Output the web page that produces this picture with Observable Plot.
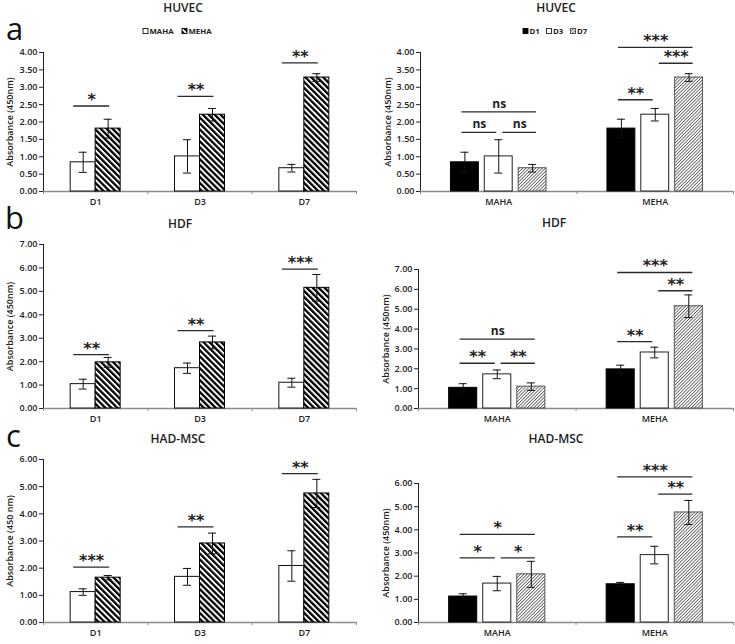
<!DOCTYPE html>
<html>
<head>
<meta charset="utf-8">
<script src="https://cdn.jsdelivr.net/npm/d3@7"></script>
<script src="https://cdn.jsdelivr.net/npm/@observablehq/plot@0.6"></script>
<style>
  body { margin: 0; background: #fff; }
  #root { position: relative; width: 735px; height: 644px; background: #fff; overflow: hidden; }
  #root > .pl { position: absolute; }
  #overlay { position: absolute; left: 0; top: 0; z-index: 5; pointer-events: none; }
</style>
</head>
<body>
<div id="root">
  <svg width="0" height="0" style="position:absolute">
    <defs>
      <pattern id="stripes" patternUnits="userSpaceOnUse" width="4.2" height="4.2" patternTransform="rotate(-45)">
        <rect x="0" y="0" width="4.2" height="4.2" fill="#fff"></rect>
        <rect x="0" y="0" width="2.3" height="4.2" fill="#000"></rect>
      </pattern>
      <pattern id="fine" patternUnits="userSpaceOnUse" width="2.3" height="2.3" patternTransform="rotate(45)">
        <rect x="0" y="0" width="2.3" height="2.3" fill="#fff"></rect>
        <rect x="0" y="0" width="0.8" height="2.3" fill="#555"></rect>
      </pattern>
    </defs>
  </svg>
  <svg id="overlay" width="735" height="644"></svg>
</div>
<script>
// ---------------- data ----------------
const days = ["D1", "D3", "D7"];
const materials = ["MAHA", "MEHA"];
const cellLines = ["HUVEC", "HDF", "HAD-MSC"];
const panelLetters = ["a", "b", "c"];
const yMaxes = [4, 7, 6];
const yTicksHUVEC = [0, 0.5, 1, 1.5, 2, 2.5, 3, 3.5, 4];
const yTicksHDF = [0, 1, 2, 3, 4, 5, 6, 7];
const yTicksMSC = [0, 1, 2, 3, 4, 5, 6];
const yLabelsLeft = ["Absorbance (450nm)", "Absorbance (450nm)", "Absorbance (450 nm)"];
const yLabelsRight = ["Absorbance (450nm)", "Absorbance (450nm)", "Absorbance (450nm)"];

// means and error (per day D1, D3, D7)
const huvecMAHA = [0.84, 1.01, 0.67];
const huvecMAHAerr = [0.29, 0.48, 0.11];
const huvecMEHA = [1.81, 2.21, 3.28];
const huvecMEHAerr = [0.27, 0.18, 0.11];
const hdfMAHA = [1.04, 1.72, 1.10];
const hdfMAHAerr = [0.21, 0.22, 0.19];
const hdfMEHA = [1.97, 2.82, 5.15];
const hdfMEHAerr = [0.21, 0.27, 0.57];
const mscMAHA = [1.12, 1.68, 2.08];
const mscMAHAerr = [0.12, 0.31, 0.56];
const mscMEHA = [1.65, 2.91, 4.75];
const mscMEHAerr = [0.08, 0.38, 0.52];

// significance MAHA vs MEHA at each day (left panels)
const sigDayHUVEC = ["*", "**", "**"];
const sigDayHUVECy = [2.46, 2.74, 3.70];
const sigDayHDF = ["**", "**", "***"];
const sigDayHDFy = [2.30, 3.32, 5.95];
const sigDayMSC = ["***", "**", "**"];
const sigDayMSCy = [2.04, 3.52, 5.48];

// significance between days within each material (right panels)
const dayPairs = [["D1", "D3"], ["D3", "D7"], ["D1", "D7"]];
const sigHUVEC_MAHA = ["ns", "ns", "ns"];
const sigHUVEC_MAHAy = [1.70, 1.70, 2.29];
const sigHUVEC_MEHA = ["**", "***", "***"];
const sigHUVEC_MEHAy = [2.64, 3.69, 4.15];
const sigHDF_MAHA = ["**", "**", "ns"];
const sigHDF_MAHAy = [2.28, 2.28, 3.49];
const sigHDF_MEHA = ["**", "**", "***"];
const sigHDF_MEHAy = [3.37, 5.93, 6.85];
const sigMSC_MAHA = ["*", "*", "*"];
const sigMSC_MAHAy = [2.79, 2.79, 3.80];
const sigMSC_MEHA = ["**", "**", "***"];
const sigMSC_MEHAy = [3.70, 5.54, 6.29];

// ---------------- assemble ----------------
const means = [[huvecMAHA, huvecMEHA], [hdfMAHA, hdfMEHA], [mscMAHA, mscMEHA]];
const errs = [[huvecMAHAerr, huvecMEHAerr], [hdfMAHAerr, hdfMEHAerr], [mscMAHAerr, mscMEHAerr]];
const yTicks = [yTicksHUVEC, yTicksHDF, yTicksMSC];
const sigDay = [[sigDayHUVEC, sigDayHUVECy], [sigDayHDF, sigDayHDFy], [sigDayMSC, sigDayMSCy]];
const sigMat = [
  [[sigHUVEC_MAHA, sigHUVEC_MAHAy], [sigHUVEC_MEHA, sigHUVEC_MEHAy]],
  [[sigHDF_MAHA, sigHDF_MAHAy], [sigHDF_MEHA, sigHDF_MEHAy]],
  [[sigMSC_MAHA, sigMSC_MAHAy], [sigMSC_MEHA, sigMSC_MEHAy]]
];

function panel(o) {
  const innerW = o.width - o.marginLeft - o.marginRight;
  const fw = innerW / o.groups.length;
  const n = o.series.length;
  const step = fw / (n - o.padIn + 2 * o.padOut);
  const bw = step * (1 - o.padIn);
  const edge = o.padOut * step + bw / 2;
  const capInset = (bw - o.cap) / 2;
  const innerH = o.height - o.marginTop - o.marginBottom;
  const tickLen = -o.yMax * 3 / innerH;
  const idx = (s) => o.series.indexOf(s);
  const marks = [
    Plot.ruleY([0], {stroke: "#8a8a8a", strokeWidth: 1.3}),
    Plot.ruleX(o.groups, {fx: (d) => d, x: () => o.series[0], y1: 0, y2: tickLen, dx: -edge, stroke: "#8a8a8a"}),
    Plot.ruleX([o.groups[o.groups.length - 1]], {fx: (d) => d, x: () => o.series[n - 1], y1: 0, y2: tickLen, dx: edge, stroke: "#8a8a8a"}),
    ...o.series.map((s, k) => Plot.barY(o.rows.filter((r) => r.series === s), {
      fx: "group", x: "series", y: "value", fill: o.fills[k], stroke: o.strokes[k], strokeWidth: 1
    })),
    Plot.ruleX(o.rows, {fx: "group", x: "series", y1: (r) => r.value - r.err, y2: (r) => r.value + r.err, stroke: "#111", strokeWidth: 1}),
    Plot.tickY(o.rows, {fx: "group", x: "series", y: (r) => r.value + r.err, insetLeft: capInset, insetRight: capInset, stroke: "#111"}),
    Plot.tickY(o.rows, {fx: "group", x: "series", y: (r) => r.value - r.err, insetLeft: capInset, insetRight: capInset, stroke: "#111"})
  ];
  o.sigs.forEach((s) => {
    const iL = o.sigInL(s, idx), iR = o.sigInR(s, idx);
    marks.push(Plot.ruleY([s], {fx: "group", x1: "from", x2: "to", y: "y", insetLeft: iL, insetRight: iR, stroke: "#2a2a2a", strokeWidth: 1.3}));
    marks.push(Plot.text([s], {
      fx: "group", x: "from", y: "y", text: "label",
      dx: (idx(s.to) - idx(s.from)) * step / 2 + (iL - iR) / 2,
      dy: s.label === "ns" ? -4 : -1,
      lineAnchor: "bottom",
      fontFamily: s.label === "ns" ? "Open Sans" : "DejaVu Sans",
      fontWeight: "bold",
      fontSize: s.label === "ns" ? 12 : 16,
      fill: "#222"
    }));
  });
  const svg = Plot.plot({
    width: o.width, height: o.height,
    marginLeft: o.marginLeft, marginRight: o.marginRight,
    marginTop: o.marginTop, marginBottom: o.marginBottom,
    style: {fontFamily: "Open Sans", fontSize: "9px", fontWeight: "600", color: "#222", background: "transparent", overflow: "visible"},
    fx: {domain: o.groups, padding: 0, round: false, axis: "bottom", tickSize: 0, tickPadding: 7, label: null},
    x: {domain: o.series, paddingInner: o.padIn, paddingOuter: o.padOut, round: false, axis: null},
    y: {domain: [0, o.yMax], ticks: o.ticks, tickFormat: (d) => d.toFixed(2), tickSize: 4, tickPadding: 2,
        line: true, label: o.yLabel, labelAnchor: "center", labelOffset: o.labelOffset, labelArrow: false},
    marks
  });
  svg.classList.add("pl");
  svg.style.left = o.left + "px";
  svg.style.top = o.top + "px";
  document.getElementById("root").insertBefore(svg, document.getElementById("overlay"));
}

const rowTops = [0, 215, 430];
const rowHeights = [213, 215, 214];
const leftMarginTops = [52, 29, 29];
const rightMarginTops = [52, 54, 53];
const rightMarginLefts = [55, 53, 53];

cellLines.forEach((cl, i) => {
  // left: grouped by day, MAHA vs MEHA
  const rowsL = [];
  days.forEach((d, j) => materials.forEach((m, k) => rowsL.push({group: d, series: m, value: means[i][k][j], err: errs[i][k][j]})));
  const sigsL = days.map((d, j) => ({group: d, from: "MAHA", to: "MEHA", label: sigDay[i][0][j], y: sigDay[i][1][j]}));
  panel({
    left: 0, top: rowTops[i], width: 365, height: rowHeights[i],
    marginLeft: 43, marginRight: 9, marginTop: leftMarginTops[i], marginBottom: 22,
    groups: days, series: materials, rows: rowsL, sigs: sigsL,
    padIn: 0, padOut: 1.087, cap: 8,
    sigInL: () => 3, sigInR: () => 11,
    fills: ["#fff", "url(#stripes)"], strokes: ["#111", "#000"],
    yMax: yMaxes[i], ticks: yTicks[i], yLabel: yLabelsLeft[i], labelOffset: 37
  });
  // right: grouped by material, D1 / D3 / D7
  const rowsR = [];
  materials.forEach((m, k) => days.forEach((d, j) => rowsR.push({group: m, series: d, value: means[i][k][j], err: errs[i][k][j]})));
  const sigsR = [];
  materials.forEach((m, k) => dayPairs.forEach((p, q) => sigsR.push({group: m, from: p[0], to: p[1], label: sigMat[i][k][0][q], y: sigMat[i][k][1][q]})));
  panel({
    left: 365, top: rowTops[i], width: 370, height: rowHeights[i],
    marginLeft: rightMarginLefts[i], marginRight: 2, marginTop: rightMarginTops[i], marginBottom: 22,
    groups: materials, series: days, rows: rowsR, sigs: sigsR,
    padIn: 0.176, padOut: 0.9, cap: 8,
    sigInL: (s, idx) => (idx(s.from) === 1 ? 18 : 11),
    sigInR: (s, idx) => (idx(s.to) === 1 ? 16 : 10),
    fills: ["#000", "#fff", "url(#fine)"], strokes: ["#000", "#222", "#555"],
    yMax: yMaxes[i], ticks: yTicks[i], yLabel: yLabelsRight[i], labelOffset: 36
  });
});

// ---------------- titles, panel letters, legends ----------------
const ov = d3.select("#overlay");
const titlePos = [[183, 12, 556, 12], [180, 228, 554, 227], [178, 443, 556, 443]];
cellLines.forEach((cl, i) => {
  const [lx, ly, rx, ry] = titlePos[i];
  [[lx, ly], [rx, ry]].forEach(([x, y]) => ov.append("text").attr("x", x).attr("y", y)
    .attr("text-anchor", "middle").attr("font-family", "Open Sans").attr("font-size", 12)
    .attr("font-weight", 600).attr("fill", "#222").text(cl));
});
const letterPos = [[6, 40], [5, 229], [6, 447]];
panelLetters.forEach((t, i) => ov.append("text").attr("x", letterPos[i][0]).attr("y", letterPos[i][1])
  .attr("font-family", "Open Sans").attr("font-size", 31).attr("fill", "#111").text(t));

function legendItem(x, fill, stroke, label) {
  ov.append("rect").attr("x", x).attr("y", 28.5).attr("width", 5).attr("height", 5)
    .attr("fill", fill).attr("stroke", stroke).attr("stroke-width", 0.9);
  ov.append("text").attr("x", x + 6.5).attr("y", 33.8).attr("font-family", "Open Sans")
    .attr("font-size", 7.8).attr("font-weight", 700).attr("fill", "#222").text(label);
}
legendItem(143, "#fff", "#111", materials[0]);
legendItem(182, "url(#stripes)", "#000", materials[1]);
legendItem(523, "#000", "#000", days[0]);
legendItem(546.5, "#fff", "#222", days[1]);
legendItem(570.5, "url(#fine)", "#444", days[2]);
</script>
</body>
</html>
